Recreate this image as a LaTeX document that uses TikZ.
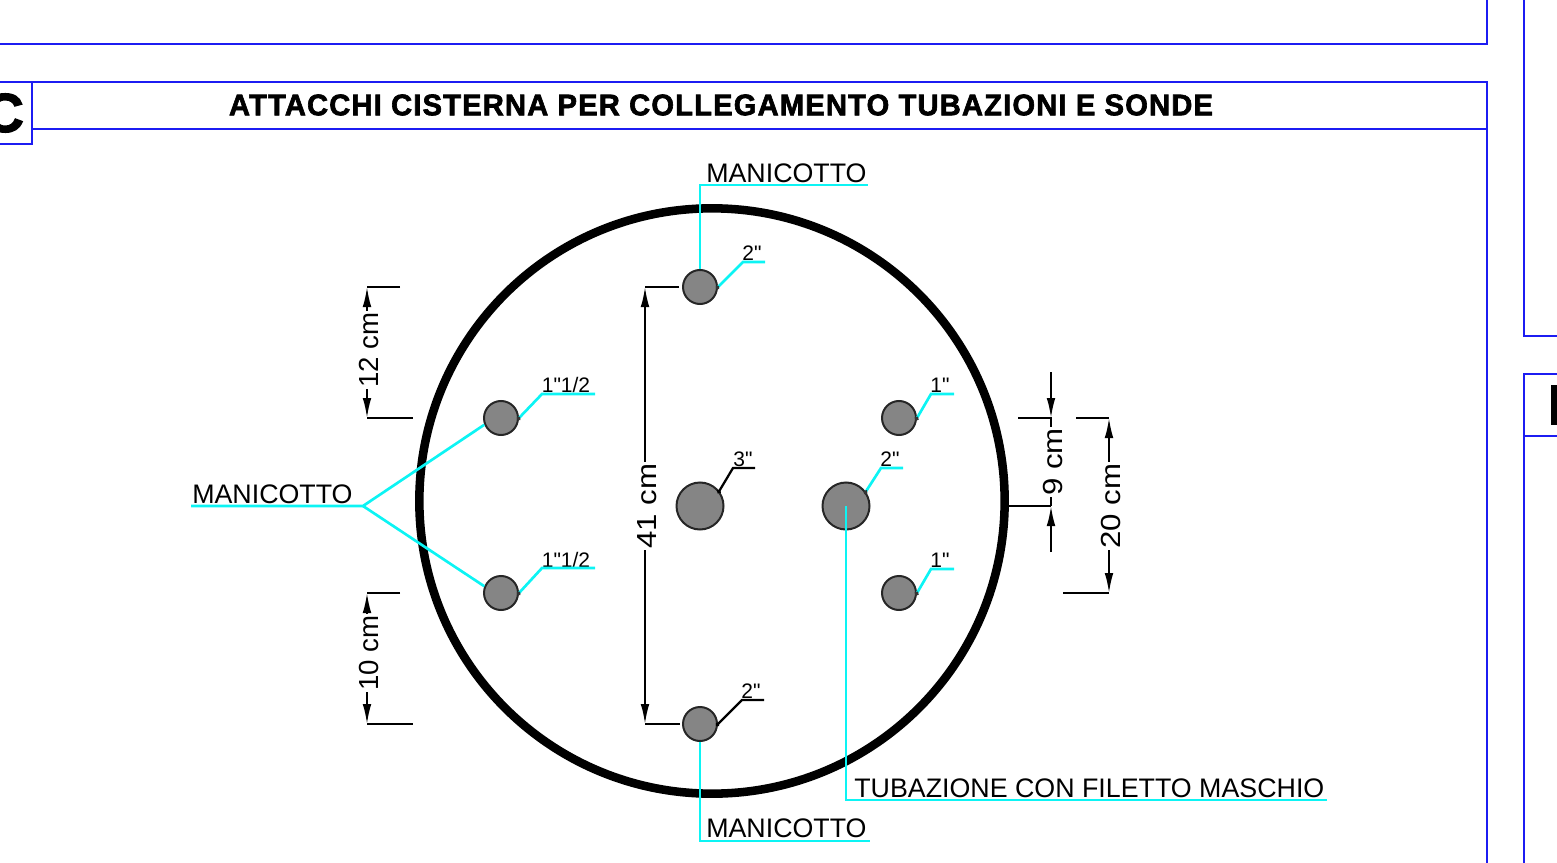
\documentclass[tikz,border=0pt]{standalone}
\usepackage{fontspec}
\setmainfont{Liberation Sans}
\newfontfamily\plainfont{Liberation Sans}
\newfontfamily\titlefont[FakeBold=2.2,LetterSpace=4]{Liberation Sans Bold}
\newfontfamily\letterfont[FakeBold=2.5]{Liberation Sans Bold}
\usetikzlibrary{arrows.meta}
\definecolor{frameblue}{HTML}{1C1CF2}
\definecolor{leadcyan}{HTML}{0CF4F4}
\definecolor{holegray}{HTML}{858585}
\tikzset{
  x=0.75pt,y=-0.75pt,
  framel/.style={draw=frameblue,line width=1.8pt},
  lead/.style={draw=leadcyan,line width=2pt},
  tiplead/.style={draw=leadcyan,line width=2pt,shorten <=-2pt,{Circle[length=3pt,black!80]}-},
  blead/.style={draw=black,line width=1.7pt,shorten <=-2pt,{Circle[length=3pt]}-},
  dimline/.style={draw=black,line width=1.4pt},
  dimarrow/.style={draw=black,line width=1.4pt,-{Latex[length=15pt,width=6.5pt]}},
  hole/.style={circle,draw=black!85,line width=1.5pt,fill=holegray,inner sep=0pt,minimum size=#1*0.75pt},
  biglabel/.style={inner sep=0pt,anchor=base west,font=\fontsize{20.1pt}{22pt}\selectfont},
  smalllabel/.style={inner sep=0pt,anchor=base,font=\plainfont\fontsize{15.75pt}{17pt}\selectfont},
  dimtext/.style={inner sep=1pt,fill=white,rotate=90,font=\fontsize{20.7pt}{22pt}\selectfont},
}
\begin{document}
\begin{tikzpicture}
\useasboundingbox (0,0) rectangle (1557,863);
\clip (0,0) rectangle (1557,863);
% frames
\draw[framel] (0,44) -- (1487,44) -- (1487,0);
\draw[framel] (0,82) -- (1487,82) -- (1487,863) (32,129) -- (1487,129);
\draw[framel] (32,82) -- (32,144) -- (0,144);
\draw[framel] (1524,0) -- (1524,336) -- (1557,336);
\draw[framel] (1557,374) -- (1524,374) -- (1524,863) (1524,436) -- (1557,436);
\fill[black] (1551,385) rectangle (1557,425);
\node[inner sep=0pt,anchor=east] (secC) at (24,113) {\letterfont\fontsize{41pt}{44pt}\selectfont C};
\node[inner sep=0pt] (title) at (721,105) {\resizebox{738pt}{15.6pt}{\titlefont ATTACCHI CISTERNA PER COLLEGAMENTO TUBAZIONI E SONDE}};
% tank
\node[circle,draw=black,line width=6.4pt,inner sep=0pt,minimum size=439pt] (tank) at (712,501) {};
% holes
\node[hole=34] (ht) at (700,287) {};
\node[hole=34] (hb) at (700,724) {};
\node[hole=34] (hl1) at (501,418) {};
\node[hole=34] (hl2) at (501,593) {};
\node[hole=34] (hr1) at (899,418) {};
\node[hole=34] (hr2) at (899,593) {};
\node[hole=47] (hc) at (700,506) {};
\node[hole=47] (hd) at (846,506) {};
% labels
\node[biglabel] (mtop) at (706,183) {MANICOTTO};
\node[biglabel] (mleft) at (192,503) {MANICOTTO};
\node[biglabel] (mbot) at (706,837) {MANICOTTO};
\node[biglabel] (tube) at (854,797) {TUBAZIONE CON FILETTO MASCHIO};
\node[smalllabel] (lt) at (752,260) {2"};
\node[smalllabel] (lb) at (751,698) {2"};
\node[smalllabel] (ll1) at (566,392) {1"1/2};
\node[smalllabel] (ll2) at (566,567) {1"1/2};
\node[smalllabel] (lr1) at (940,392) {1"};
\node[smalllabel] (lr2) at (940,567) {1"};
\node[smalllabel] (lc) at (743,466) {3"};
\node[smalllabel] (ld) at (890,466) {2"};
% leader points
\coordinate (mtopb) at (700,185); \coordinate (mtope) at (868,185);
\coordinate (mbotb) at (700,841); \coordinate (mbote) at (870,841);
\coordinate (mlb) at (363,506); \coordinate (mle) at (191,506);
\coordinate (tubb) at (846,800); \coordinate (tube2) at (1327,800);
\coordinate (ltb) at (743,262); \coordinate (lte) at (765,262);
\coordinate (lbb) at (742,700); \coordinate (lbe) at (764,700);
\coordinate (ll1b) at (542,394); \coordinate (ll1e) at (595,394);
\coordinate (ll2b) at (542,568); \coordinate (ll2e) at (595,568);
\coordinate (lr1b) at (931,394); \coordinate (lr1e) at (954,394);
\coordinate (lr2b) at (931,569); \coordinate (lr2e) at (954,569);
\coordinate (lcb) at (733,468); \coordinate (lce) at (755,468);
\coordinate (ldb) at (881,468); \coordinate (lde) at (903,468);
% cyan leaders
\draw[lead] (ht.north) -- (mtopb) -- (mtope);
\draw[lead] (hb.south) -- (mbotb) -- (mbote);
\draw[lead] (hd.center) -- (tubb) -- (tube2);
\draw[lead] (mle) -- (mlb) -- (hl1.202);
\draw[lead] (mlb) -- (hl2.158);
\draw[tiplead] (ht.east) -- (ltb) -- (lte);
\draw[tiplead] (hl1.east) -- (ll1b) -- (ll1e);
\draw[tiplead] (hl2.east) -- (ll2b) -- (ll2e);
\draw[tiplead] (hr1.east) -- (lr1b) -- (lr1e);
\draw[tiplead] (hr2.east) -- (lr2b) -- (lr2e);
\draw[tiplead] (hd.36) -- (ldb) -- (lde);
% black leaders
\draw[blead] (hb.east) -- (lbb) -- (lbe);
\draw[blead] (hc.38) -- (lcb) -- (lce);
% dimension points
\coordinate (d12a) at (400,287); \coordinate (d12b) at (367,287);
\coordinate (d12c) at (367,418); \coordinate (d12d) at (413,418);
\coordinate (d10a) at (400,593); \coordinate (d10b) at (367,593);
\coordinate (d10c) at (367,724); \coordinate (d10d) at (413,724);
\coordinate (d41a) at (679,287); \coordinate (d41b) at (645,287);
\coordinate (d41c) at (645,724); \coordinate (d41d) at (680,724);
\coordinate (d9a) at (1018,418); \coordinate (d9b) at (1051,418);
\coordinate (d9c) at (1051,506); \coordinate (d9t) at (1051,372);
\coordinate (d9e) at (1051,552);
\coordinate (d20a) at (1076,418); \coordinate (d20b) at (1109,418);
\coordinate (d20c) at (1109,593); \coordinate (d20d) at (1063,593);
\coordinate (d12m) at (367,350); \coordinate (d10m) at (367,655);
\coordinate (d41m) at (645,506); \coordinate (d20m) at (1109,506);
% dimension lines
\draw[dimline] (d12a) -- (d12b) (d12c) -- (d12d);
\draw[dimarrow] (d12m) -- (d12b);
\draw[dimarrow] (d12m) -- (d12c);
\draw[dimline] (d10a) -- (d10b) (d10c) -- (d10d);
\draw[dimarrow] (d10m) -- (d10b);
\draw[dimarrow] (d10m) -- (d10c);
\draw[dimline] (d41a) -- (d41b) (d41c) -- (d41d);
\draw[dimarrow] (d41m) -- (d41b);
\draw[dimarrow] (d41m) -- (d41c);
\draw[dimline] (d9a) -- (d9b) -- (d9c);
\draw[dimline,line width=1.8pt] (tank.east |- d9c) -- (d9c);
\draw[dimarrow] (d9t) -- (d9b);
\draw[dimarrow] (d9e) -- (d9c);
\draw[dimline] (d20a) -- (d20b) (d20c) -- (d20d);
\draw[dimarrow] (d20m) -- (d20b);
\draw[dimarrow] (d20m) -- (d20c);
% dimension texts
\node[dimtext] (t12) at (369,350) {12 cm};
\node[dimtext] (t10) at (369,653) {10 cm};
\node[dimtext] (t41) at (647,506) {\scalebox{1.13}[1]{41 cm}};
\node[dimtext] (t9) at (1053,462) {\scalebox{1.13}[1]{9 cm}};
\node[dimtext] (t20) at (1111,506) {\scalebox{1.13}[1]{20 cm}};
\end{tikzpicture}
\end{document}
